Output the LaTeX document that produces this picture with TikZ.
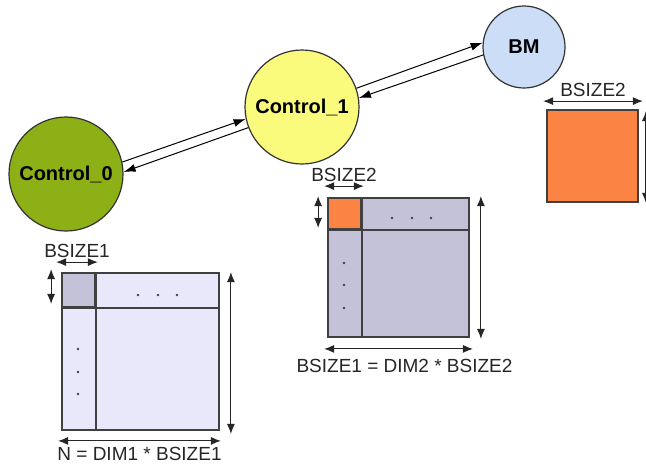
\documentclass[tikz,border=0pt]{standalone}
\usepackage{fontspec}
\setmainfont{Liberation Sans}
\usetikzlibrary{arrows.meta, positioning}
\definecolor{ctrlgreen}{HTML}{8CB015}
\definecolor{ctrlyellow}{HTML}{FAFA7C}
\definecolor{bmblue}{HTML}{CCDDF8}
\definecolor{blockorange}{HTML}{FB8445}
\definecolor{matlight}{HTML}{E8E8FA}
\definecolor{matgray}{HTML}{C4C2D8}

\begin{document}
\begin{tikzpicture}[x=0.5pt, y=-0.5pt,
  proc/.style={circle, draw=black!80, line width=0.6pt, fill=#1, inner sep=0pt,
               font=\fontsize{10}{12}\selectfont\bfseries},
  matbox/.style={rectangle, draw=black!75, line width=0.9pt, fill=#1, inner sep=0pt},
  link/.style={-{Latex[length=6pt,width=4pt]}, line width=0.5pt},
  dim/.style={{Latex[length=5pt,width=4pt]}-{Latex[length=5pt,width=4pt]},
              line width=0.5pt, black!85},
  dimlabel/.style={font=\fontsize{9.5}{11}\selectfont, inner sep=1pt},
  dotmark/.style={black!75}
]
\useasboundingbox (0,0) rectangle (646,468);

% processes
\node[proc=ctrlgreen, minimum size=57pt] (ctrl0) at (66,174) {Control\_0};
\node[proc=ctrlyellow, minimum size=57pt] (ctrl1) at (302,107) {Control\_1};
\node[proc=bmblue, minimum size=41pt] (bm) at (524,47) {BM};

% messages between the processes
\draw[link] (ctrl0.12) -- (ctrl1.192);
\draw[link] (ctrl1.201) -- (ctrl0.2);
\draw[link] (ctrl1.19) -- (bm.174);
\draw[link] (bm.191) -- (ctrl1.9);

% whole matrix, split in BSIZE1 blocks
\node[matbox=matlight, minimum width=78.5pt, minimum height=78.5pt] (mat1) at (140.5,351.5) {};
\node[matbox=matgray, anchor=north west, minimum width=16.5pt, minimum height=17pt] (blk1) at (mat1.north west) {};
\draw[black!75, line width=0.9pt] (blk1.north east) -- (blk1.north east |- mat1.south);
\draw[black!75, line width=0.9pt] (blk1.south west) -- (blk1.south west -| mat1.east);
\foreach \x in {138,158,177} \fill[dotmark] (\x,295) circle (0.7pt);
\foreach \y in {349,372,394} \fill[dotmark] (78,\y) circle (0.7pt);

\draw[dim] ([xshift=-2.5pt,yshift=5pt]blk1.north west) -- node[dimlabel, above=1pt] {BSIZE1} ([xshift=1pt,yshift=5pt]blk1.north east);
\draw[dim] ([xshift=-5pt,yshift=1.5pt]blk1.north west) -- ([xshift=-5pt,yshift=2pt]blk1.south west);
\draw[dim] ([xshift=5.5pt]mat1.north east) -- ([xshift=5.5pt,yshift=-1.5pt]mat1.south east);
\draw[dim] ([xshift=-1.5pt,yshift=-5pt]mat1.south west) -- node[dimlabel, below=2pt] {N = DIM1 * BSIZE1} ([xshift=0.5pt,yshift=-5pt]mat1.south east);

% one BSIZE1 block, split in BSIZE2 blocks
\node[matbox=matgray, minimum width=70.5pt, minimum height=69.5pt] (mat2) at (398.5,267.5) {};
\node[matbox=blockorange, anchor=north west, minimum width=16.5pt, minimum height=15.5pt] (blk2) at (mat2.north west) {};
\draw[black!75, line width=0.9pt] (blk2.north east) -- (blk2.north east |- mat2.south);
\draw[black!75, line width=0.9pt] (blk2.south west) -- (blk2.south west -| mat2.east);
\foreach \x in {392,412,431} \fill[dotmark] (\x,218) circle (0.7pt);
\foreach \y in {263,285,308} \fill[dotmark] (344,\y) circle (0.7pt);

\draw[dim] ([xshift=-1.5pt,yshift=5.5pt]blk2.north west) -- node[dimlabel, above=1pt] {BSIZE2} ([xshift=1pt,yshift=5.5pt]blk2.north east);
\draw[dim] ([xshift=-4.5pt,yshift=0.5pt]blk2.north west) -- ([xshift=-4.5pt,yshift=1pt]blk2.south west);
\draw[dim] ([xshift=5.5pt,yshift=0.5pt]mat2.north east) -- ([xshift=5.5pt,yshift=-0.5pt]mat2.south east);
\draw[dim] ([xshift=-1.5pt,yshift=-5.5pt]mat2.south west) -- node[dimlabel, below=4pt, xshift=3pt] {BSIZE1 = DIM2 * BSIZE2} ([xshift=1.5pt,yshift=-5.5pt]mat2.south east);

% single BSIZE2 block
\node[matbox=blockorange, minimum width=45.5pt, minimum height=46pt] (blk3) at (592.5,156) {};
\draw[dim] ([xshift=-1.5pt,yshift=4pt]blk3.north west) -- node[dimlabel, above=1pt] {BSIZE2} ([xshift=2pt,yshift=4pt]blk3.north east);
\draw[dim] ([xshift=3.5pt,yshift=-1pt]blk3.north east) -- ([xshift=3.5pt]blk3.south east);
\end{tikzpicture}
\end{document}
